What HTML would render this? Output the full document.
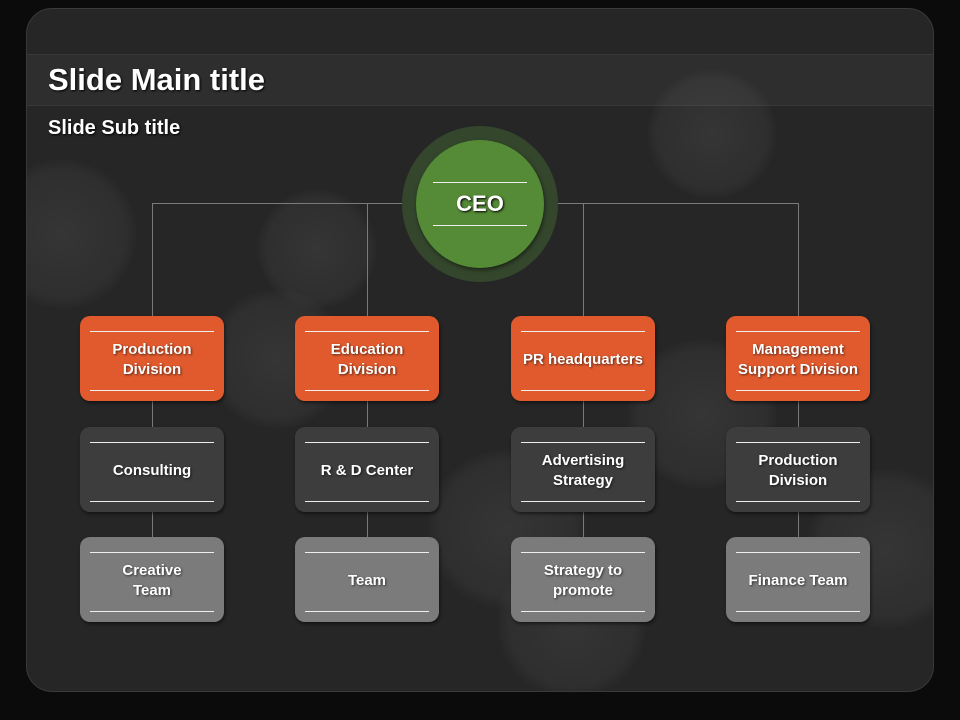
<!DOCTYPE html>
<html><head><style>
body{margin:0;width:960px;height:720px;background:#0b0b0b;overflow:hidden;font-family:"Liberation Sans",sans-serif;position:relative}
.panel{position:absolute;left:26px;top:8px;width:906px;height:682px;border-radius:26px;background:#262626;border:1px solid #3a3a3a;overflow:hidden}
.bk{position:absolute;border-radius:50%;background:radial-gradient(circle,rgba(255,255,255,0.07),rgba(255,255,255,0.04) 60%,rgba(255,255,255,0) 72%)}
.band{position:absolute;left:0;top:45px;width:906px;height:50px;background:rgba(255,255,255,0.04);border-top:1px solid rgba(255,255,255,0.05);border-bottom:1px solid rgba(255,255,255,0.05)}
.t{position:absolute;color:#fff;font-weight:bold;text-shadow:1px 1px 2px #000}
.line{position:absolute;background:#7a7a7a}
.box{position:absolute;width:144px;height:85px;border-radius:10px;box-shadow:1px 2px 3px rgba(0,0,0,.5);color:#fff;font-weight:bold;font-size:15px;text-align:center;display:flex;align-items:center;justify-content:center;line-height:20px;text-shadow:1px 1px 2px rgba(0,0,0,.6);padding-top:2px;box-sizing:border-box}
.box:before,.box:after{content:"";position:absolute;left:10px;right:10px;height:1px;background:#eee}
.box:before{top:15px}.box:after{bottom:10px}
.o{background:#e05a2e}.d{background:#3d3d3d}.g{background:#7b7b7b}
</style></head><body>
<div class="panel">
<div class="bk" style="left:180px;top:280px;width:140px;height:140px"></div>
<div class="bk" style="left:400px;top:440px;width:160px;height:160px"></div>
<div class="bk" style="left:600px;top:330px;width:150px;height:150px"></div>
<div class="bk" style="left:780px;top:460px;width:160px;height:160px"></div>
<div class="bk" style="left:470px;top:540px;width:150px;height:150px"></div>
<div class="bk" style="left:-40px;top:150px;width:150px;height:150px"></div>
<div class="bk" style="left:230px;top:180px;width:120px;height:120px"></div>
<div class="bk" style="left:620px;top:60px;width:130px;height:130px"></div>
<div class="band"></div>
</div>
<div class="t" style="left:48px;top:62px;font-size:31px">Slide Main title</div>
<div class="t" style="left:48px;top:117px;font-size:20px">Slide Sub title</div>
<div class="line" style="left:152px;top:203px;width:646px;height:1px"></div>
<div class="line" style="left:152px;top:203px;width:1px;height:340px"></div>
<div class="line" style="left:367px;top:203px;width:1px;height:340px"></div>
<div class="line" style="left:583px;top:203px;width:1px;height:340px"></div>
<div class="line" style="left:798px;top:203px;width:1px;height:340px"></div>
<div style="position:absolute;left:402px;top:126px;width:156px;height:156px;border-radius:50%;background:#34472c"></div>
<div style="position:absolute;left:416px;top:140px;width:128px;height:128px;border-radius:50%;background:#558a36;box-shadow:1px 2px 4px rgba(0,0,0,.5)"></div>
<div style="position:absolute;left:433px;top:182px;width:94px;height:1px;background:#eee"></div>
<div style="position:absolute;left:433px;top:225px;width:94px;height:1px;background:#eee"></div>
<div class="t" style="left:416px;top:191px;width:128px;text-align:center;font-size:22px">CEO</div>

<div class="box o" style="left:80px;top:316px">Production<br>Division</div>
<div class="box o" style="left:295px;top:316px">Education<br>Division</div>
<div class="box o" style="left:511px;top:316px">PR headquarters</div>
<div class="box o" style="left:726px;top:316px">Management<br>Support Division</div>
<div class="box d" style="left:80px;top:427px">Consulting</div>
<div class="box d" style="left:295px;top:427px">R &amp; D Center</div>
<div class="box d" style="left:511px;top:427px">Advertising<br>Strategy</div>
<div class="box d" style="left:726px;top:427px">Production<br>Division</div>
<div class="box g" style="left:80px;top:537px">Creative<br>Team</div>
<div class="box g" style="left:295px;top:537px">Team</div>
<div class="box g" style="left:511px;top:537px">Strategy to<br>promote</div>
<div class="box g" style="left:726px;top:537px">Finance Team</div>
</body></html>
